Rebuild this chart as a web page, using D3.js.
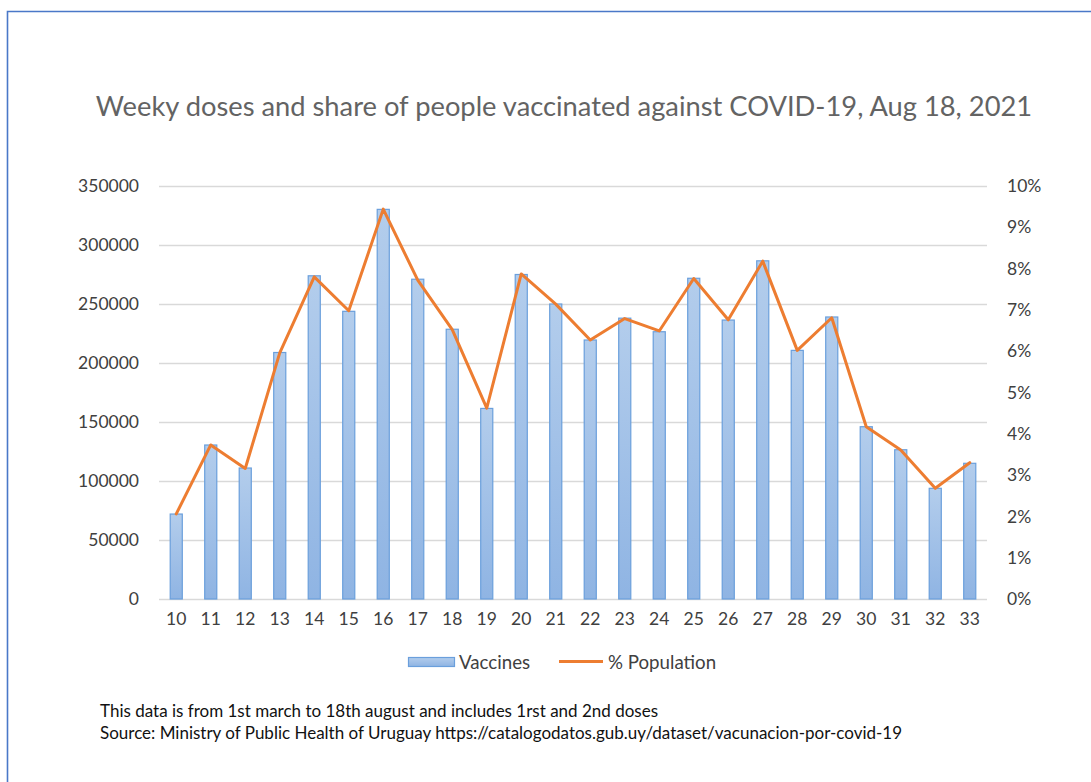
<!DOCTYPE html>
<html>
<head>
<meta charset="utf-8">
<script src="https://cdn.jsdelivr.net/npm/d3@7"></script>
<style>
  html, body { margin: 0; padding: 0; background: #fff; }
  svg { display: block; font-family: Lato, "Open Sans", sans-serif; }
</style>
</head>
<body>
<svg id="chart" width="1091" height="782"></svg>
<script>
// Epidemiological weeks (2021)
const weeks = ["10","11","12","13","14","15","16","17","18","19","20","21",
               "22","23","24","25","26","27","28","29","30","31","32","33"];
// Weekly doses administered
const vaccines = [72000, 130500, 111000, 208900, 273900, 243800, 330200, 271000,
                  228600, 161500, 275000, 250000, 219500, 238000, 226500, 271800,
                  236400, 286600, 210700, 239000, 146000, 126500, 93800, 115000];
// Share of population vaccinated that week (%)
const population = [2.06, 3.73, 3.16, 5.96, 7.80, 6.98, 9.44, 7.72, 6.52, 4.62, 7.87, 7.14,
                    6.27, 6.79, 6.49, 7.76, 6.76, 8.18, 6.02, 6.81, 4.17, 3.61, 2.68, 3.30];
const leftTicks = [0, 50000, 100000, 150000, 200000, 250000, 300000, 350000];
const rightTicks = [0,1,2,3,4,5,6,7,8,9,10];

const svg = d3.select("#chart");
const plot = { left: 159, right: 987, top: 186, bottom: 599 };

// Frame of the chart area
svg.append("path")
  .attr("d", `M7.5,782 L7.5,11.5 L1091,11.5`)
  .attr("fill", "none").attr("stroke", "#4a78c8").attr("stroke-width", 1.6);

// Title
svg.append("text")
  .attr("x", 564).attr("y", 116)
  .attr("text-anchor", "middle")
  .attr("font-size", 27.3).attr("fill", "#636363")
  .text("Weeky doses and share of people vaccinated against COVID-19, Aug 18, 2021");

const x = d3.scaleBand().domain(weeks)
  .range([plot.left, plot.right]).paddingInner(0.65).paddingOuter(0.325);
const yL = d3.scaleLinear().domain([0, 350000]).range([plot.bottom, plot.top]);
const yR = d3.scaleLinear().domain([0, 10]).range([plot.bottom, plot.top]);

// Gridlines
svg.append("g").selectAll("line").data(leftTicks).join("line")
  .attr("x1", plot.left).attr("x2", plot.right)
  .attr("y1", d => Math.round(yL(d)) + 0.5).attr("y2", d => Math.round(yL(d)) + 0.5)
  .attr("stroke", "#d9d9d9").attr("stroke-width", 1.3);

// Left axis
const axL = svg.append("g").attr("transform", `translate(${plot.left},0)`)
  .call(d3.axisLeft(yL).tickValues(leftTicks).tickFormat(d3.format("d")).tickSize(0).tickPadding(20));
axL.select(".domain").remove();
axL.selectAll("text").attr("font-size", 17.5).attr("fill", "#404040")
  .attr("font-family", "Lato, sans-serif");

// Right axis
const axR = svg.append("g").attr("transform", `translate(${plot.right},0)`)
  .call(d3.axisRight(yR).tickValues(rightTicks).tickFormat(d => d + "%").tickSize(0).tickPadding(20));
axR.select(".domain").remove();
axR.selectAll("text").attr("font-size", 17.5).attr("fill", "#404040")
  .attr("font-family", "Lato, sans-serif");

// Bottom axis (category labels)
const axB = svg.append("g").attr("transform", `translate(0,${plot.bottom})`)
  .call(d3.axisBottom(x).tickSize(0).tickPadding(14));
axB.select(".domain").remove();
axB.selectAll("text").attr("font-size", 17.5).attr("fill", "#404040")
  .attr("font-family", "Lato, sans-serif");

// Bar fill gradient
const defs = svg.append("defs");
const grad = defs.append("linearGradient").attr("id", "barFill")
  .attr("x1", 0).attr("y1", 0).attr("x2", 0).attr("y2", 1);
grad.append("stop").attr("offset", "0%").attr("stop-color", "#b3cdec");
grad.append("stop").attr("offset", "100%").attr("stop-color", "#8fb4e3");
const gradL = defs.append("linearGradient").attr("id", "legFill")
  .attr("x1", 0).attr("y1", 0).attr("x2", 0).attr("y2", 1);
gradL.append("stop").attr("offset", "0%").attr("stop-color", "#b3cdec");
gradL.append("stop").attr("offset", "100%").attr("stop-color", "#8fb4e3");

// Bars
svg.append("g").selectAll("rect").data(weeks).join("rect")
  .attr("x", (d) => x(d))
  .attr("width", x.bandwidth())
  .attr("y", (d, i) => yL(vaccines[i]))
  .attr("height", (d, i) => yL(0) - yL(vaccines[i]))
  .attr("fill", "url(#barFill)")
  .attr("stroke", "#6a9fdc").attr("stroke-width", 1.2);

// Line
const line = d3.line()
  .x((d, i) => x(weeks[i]) + x.bandwidth() / 2)
  .y(d => yR(d));
svg.append("path").datum(population)
  .attr("d", line)
  .attr("fill", "none").attr("stroke", "#ed7d31").attr("stroke-width", 3)
  .attr("stroke-linejoin", "round").attr("stroke-linecap", "round");

// Legend
const leg = svg.append("g");
leg.append("rect").attr("x", 408.5).attr("y", 657.5).attr("width", 46).attr("height", 9)
  .attr("fill", "url(#legFill)").attr("stroke", "#6a9fdc").attr("stroke-width", 1.2);
leg.append("text").attr("x", 459).attr("y", 668.5).attr("font-size", 18.7).attr("fill", "#404040")
  .text("Vaccines");
leg.append("line").attr("x1", 559).attr("x2", 603).attr("y1", 661.5).attr("y2", 661.5)
  .attr("stroke", "#ed7d31").attr("stroke-width", 3);
leg.append("text").attr("x", 608).attr("y", 668.5).attr("font-size", 18.7).attr("fill", "#404040")
  .text("% Population");

// Footnotes
const notes = [
  "This data is from 1st march to 18th august and includes 1rst and 2nd doses",
  "Source: Ministry of Public Health of Uruguay https://catalogodatos.gub.uy/dataset/vacunacion-por-covid-19"
];
svg.append("g").selectAll("text").data(notes).join("text")
  .attr("x", 100).attr("y", (d, i) => 716.5 + i * 22.5)
  .attr("font-size", 17).attr("fill", "#111")
  .text(d => d);
</script>
</body>
</html>
